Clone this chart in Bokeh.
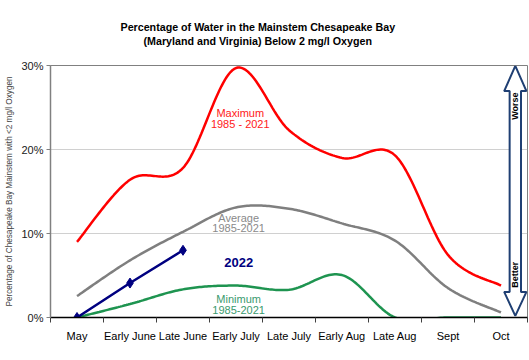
import numpy as np
from bokeh.plotting import figure
from bokeh.models import FixedTicker, Label, Range1d, Title
from bokeh.embed import file_html
from bokeh.resources import INLINE

categories = ["May", "Early June", "Late June", "Early July", "Late July",
              "Early Aug", "Late Aug", "Sept", "Oct"]
maximum = [9.0, 16.4, 17.8, 29.7, 22.3, 19.0, 19.3, 7.45, 3.8]
average = [2.55, 6.8, 10.2, 13.1, 12.95, 11.2, 9.15, 3.5, 0.6]
minimum = [0.0, 1.6, 3.35, 3.8, 3.3, 5.05, 0.0, 0.0, 0.0]
y2022 = [0.0, 4.1, 8.0]
y_ticks = [0, 10, 20, 30]
y_tick_labels = ["0%", "10%", "20%", "30%"]
title_lines = ["Percentage of Water in the Mainstem Chesapeake Bay",
               "(Maryland and Virginia) Below 2 mg/l Oxygen"]

FONT = "Liberation Sans"


def smooth(xs, ys, n=30):
    """Excel-like smoothed line (Catmull-Rom cubic Bezier through the points)."""
    xs = np.asarray(xs, float)
    ys = np.asarray(ys, float)
    P = np.column_stack([xs, ys])
    m = len(P)
    out = []
    for i in range(m - 1):
        p0 = P[i - 1] if i > 0 else P[i]
        p1 = P[i]
        p2 = P[i + 1]
        p3 = P[i + 2] if i + 2 < m else P[i + 1]
        c1 = p1 + (p2 - p0) / 6.0
        c2 = p2 - (p3 - p1) / 6.0
        t = np.linspace(0, 1, n)[:, None]
        seg = ((1 - t) ** 3) * p1 + 3 * ((1 - t) ** 2) * t * c1 + 3 * (1 - t) * t * t * c2 + t ** 3 * p2
        out.append(seg if i == 0 else seg[1:])
    arr = np.vstack(out)
    return arr[:, 0], arr[:, 1]


xpos = [i + 0.5 for i in range(len(categories))]

p = figure(width=529, height=360, output_backend="svg", toolbar_location=None,
           x_range=Range1d(0, len(categories)), y_range=Range1d(0, 30),
           min_border_left=50, min_border_right=2, min_border_top=65, min_border_bottom=43)
p.background_fill_color = "white"
p.border_fill_color = "white"
p.outline_line_color = "#808080"
p.outline_line_width = 1

# title: spacer next to the frame, then line 2, then line 1
p.add_layout(Title(text=" ", text_font=FONT, text_font_size="10.7px", standoff=5), "above")
p.add_layout(Title(text=title_lines[1], align="left", offset=93, text_font=FONT,
                   text_font_size="10.7px", text_font_style="bold", text_color="black",
                   standoff=0), "above")
p.add_layout(Title(text=title_lines[0], align="left", offset=70, text_font=FONT,
                   text_font_size="10.7px", text_font_style="bold", text_color="black",
                   standoff=0), "above")

# grid
p.xgrid.grid_line_color = None
p.ygrid.ticker = FixedTicker(ticks=[10, 20])
p.ygrid.grid_line_color = "#a0a0a0"
p.ygrid.grid_line_dash = "1 1"
p.ygrid.grid_line_width = 1

# x axis
p.xaxis.ticker = FixedTicker(ticks=xpos, minor_ticks=list(range(len(categories) + 1)))
p.xaxis.major_label_overrides = {x: c for x, c in zip(xpos, categories)}
p.xaxis.major_tick_line_color = None
p.xaxis.minor_tick_line_color = "#404040"
p.xaxis.minor_tick_out = 5
p.xaxis.minor_tick_in = 0
p.xaxis.axis_line_color = "black"
p.xaxis.axis_line_width = 1.5
p.xaxis.major_label_text_font = FONT
p.xaxis.major_label_text_font_size = "11px"
p.xaxis.major_label_text_color = "black"
p.xaxis.major_label_standoff = 6

# y axis
p.yaxis.ticker = FixedTicker(ticks=y_ticks)
p.yaxis.major_label_overrides = {t: l for t, l in zip(y_ticks, y_tick_labels)}
p.yaxis.minor_tick_line_color = None
p.yaxis.major_tick_out = 4
p.yaxis.major_tick_in = 0
p.yaxis.major_tick_line_color = "#808080"
p.yaxis.axis_line_color = "#808080"
p.yaxis.axis_line_width = 1.5
p.yaxis.major_label_text_font = FONT
p.yaxis.major_label_text_font_size = "11px"
p.yaxis.major_label_text_color = "#202020"
p.yaxis.major_label_standoff = 3
p.yaxis.axis_label = "Percentage of Chesapeake Bay Mainstem with <2 mg/l Oxygen"
p.yaxis.axis_label_text_font = FONT
p.yaxis.axis_label_text_font_size = "8.2px"
p.yaxis.axis_label_text_font_style = "normal"
p.yaxis.axis_label_standoff = 4

# series
mx, my = smooth(xpos, maximum)
p.line(mx, my, line_color="#ff0000", line_width=2.5)
ax_, ay_ = smooth(xpos, average)
p.line(ax_, ay_, line_color="#7f7f7f", line_width=2.5)
nx, ny = smooth(xpos, minimum)
p.line(nx, ny, line_color="#1e9450", line_width=2.5)
bx = xpos[:len(y2022)]
p.line(bx, y2022, line_color="#000080", line_width=2.5)
p.scatter(bx, y2022, marker="diamond", size=10, fill_color="#000080", line_color="#000080")

# Better / Worse double arrow
XC, HW, HH = 8.77, 0.107, 0.21
ax = [XC, XC + HH, XC + HW, XC + HW, XC + HH, XC, XC - HH, XC - HW, XC - HW, XC - HH]
ay = [29.95, 26.95, 26.95, 3.05, 3.05, 0.2, 3.05, 3.05, 26.95, 26.95]
p.patch(ax, ay, fill_color="white", line_color="#1f3f73", line_width=2)
p.add_layout(Label(x=XC, y=26.8, text="Worse", angle=np.pi / 2, text_align="right",
                   text_baseline="middle", text_font=FONT, text_font_size="9px",
                   text_font_style="bold", text_color="black"))
p.add_layout(Label(x=XC, y=3.55, text="Better", angle=np.pi / 2, text_align="left",
                   text_baseline="middle", text_font=FONT, text_font_size="9px",
                   text_font_style="bold", text_color="black"))


# in-plot labels
def lab(x, y, t, color, size="11px", style="normal"):
    p.add_layout(Label(x=x, y=y, text=t, text_align="center", text_baseline="middle",
                       text_font=FONT, text_font_size=size, text_font_style=style,
                       text_color=color))


lab(3.58, 24.3, "Maximum", "#ff2020")
lab(3.58, 23.0, "1985 - 2021", "#ff2020")
lab(3.55, 11.9, "Average", "#8a8a8a")
lab(3.55, 10.7, "1985-2021", "#8a8a8a")
lab(3.55, 6.5, "2022", "#000080", size="13px", style="bold")
lab(3.55, 2.15, "Minimum", "#3a9a6e")
lab(3.55, 0.95, "1985-2021", "#3a9a6e")

open("out.html", "w").write(file_html(p, INLINE))
